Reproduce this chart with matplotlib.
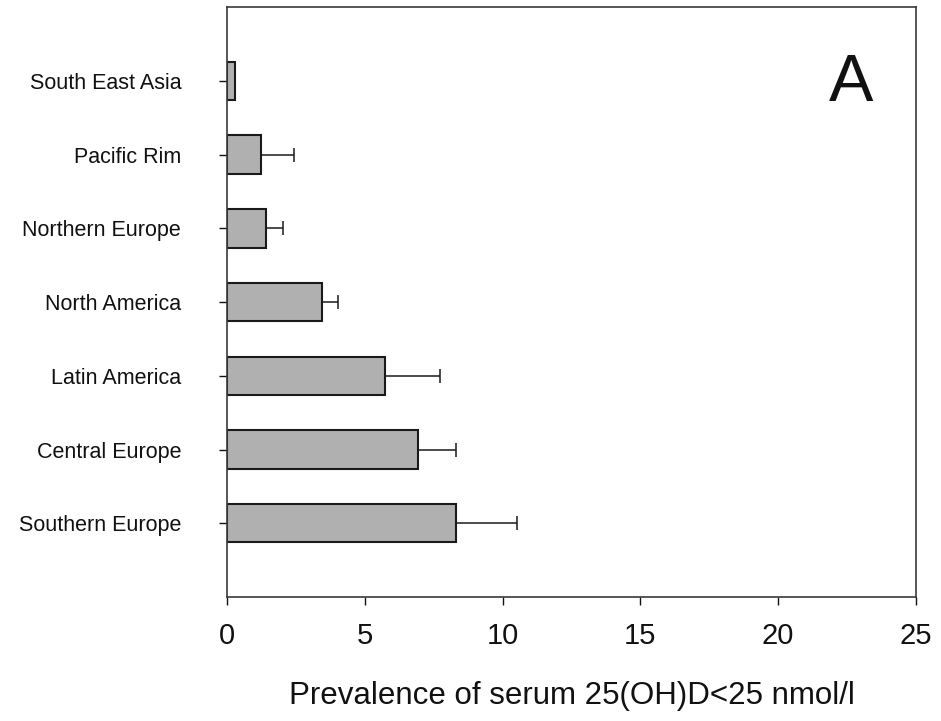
import numpy as np
import matplotlib.pyplot as plt

# =========================
# Data
# =========================

regions = [
    "Southern Europe",
    "Central Europe",
    "Latin America",
    "North America",
    "Northern Europe",
    "Pacific Rim",
    "South East Asia",
]

# prevalence (%) of serum 25(OH)D < 25 nmol/l
prevalence = [8.3, 6.93, 5.73, 3.43, 1.43, 1.25, 0.3]

# upper error (only the + side is drawn)
error_upper = [2.22, 1.38, 1.99, 0.61, 0.59, 1.2, 0.0]

x_ticks = [0, 5, 10, 15, 20, 25]
x_label = "Prevalence of serum 25(OH)D<25 nmol/l"
panel_letter = "A"


def main():
    plt.rcParams["font.family"] = ["Liberation Sans", "DejaVu Sans"]

    fig = plt.figure(figsize=(9.41, 7.21), dpi=100)
    ax = fig.add_axes([0.2412, 0.172, 0.7322, 0.818])

    ypos = np.arange(len(regions))
    xerr = np.vstack([np.zeros(len(error_upper)), error_upper])
    has_err = np.array(error_upper) > 0

    ax.barh(ypos, prevalence, height=0.52, color="#b0b0b0",
            edgecolor="#1a1a1a", linewidth=1.5, zorder=2)
    ax.errorbar(np.array(prevalence)[has_err], ypos[has_err],
                xerr=xerr[:, has_err], fmt="none", ecolor="#1a1a1a",
                elinewidth=1.1, capsize=4.7, capthick=1.1, zorder=3)

    ax.set_xlim(0, 25)
    ax.set_ylim(-1, 7)
    ax.set_xticks(x_ticks)
    ax.set_xticklabels([str(t) for t in x_ticks])
    ax.set_yticks(ypos)
    ax.set_yticklabels(regions)

    for side in ["left", "right", "top", "bottom"]:
        ax.spines[side].set_linewidth(1.2)
        ax.spines[side].set_color("#3a3a3a")

    ax.tick_params(axis="x", direction="out", length=6, width=1.0,
                   labelsize=21, pad=12, colors="#111111")
    ax.tick_params(axis="y", direction="out", length=6, width=1.0,
                   labelsize=15.5, pad=27, colors="#111111")

    ax.set_xlabel(x_label, fontsize=22.5, labelpad=22, color="#111111")

    ax.text(0.906, 0.87, panel_letter, transform=ax.transAxes,
            fontsize=48, ha="center", va="center", color="#111111")

    fig.savefig("out.png", dpi=100)


if __name__ == "__main__":
    main()
